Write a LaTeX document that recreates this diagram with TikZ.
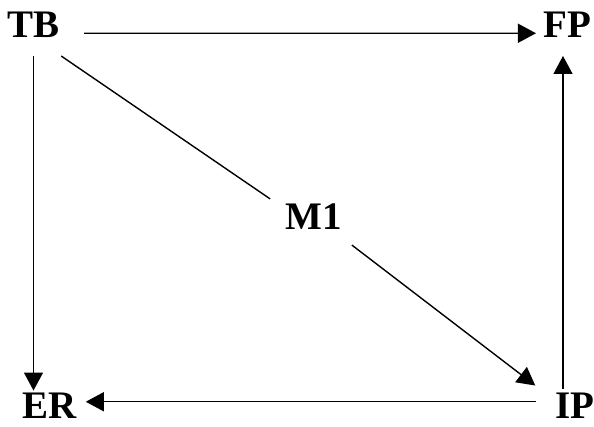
\documentclass[tikz,border=0pt]{standalone}
\usepackage{fontspec}
\setmainfont{Liberation Serif}
\usetikzlibrary{arrows.meta}

\begin{document}
\begin{tikzpicture}[x=1pt,y=1pt,line width=1.4pt,>={Triangle[length=18pt,width=19pt]},
  lbl/.style={inner sep=0pt,font=\fontsize{39}{42}\selectfont\bfseries}]
\useasboundingbox (0,0) rectangle (594,427);
% ---------- nodes ----------
\node[lbl] (TB) at (33.5,402.5) {TB};
\node[lbl] (FP) at (567.5,402.5) {FP};
\node[lbl] (ER) at (50,21.5) {ER};
\node[lbl] (IP) at (574.5,21.5) {IP};
\node[lbl] (M1) at (314,210.5) {M1};
% ---------- arrows ----------
\draw[->,shorten <=24pt,shorten >=7pt] ([yshift=4pt]TB.base east) -- ([yshift=4pt]FP.base west);
\draw[->,shorten <=18pt,shorten >=1.5pt] (TB.south) -- (TB.south |- ER.north);
\draw[->,shorten <=18pt,shorten >=8pt] ([yshift=16.5pt]IP.base west) -- ([yshift=16.5pt]ER.base east);
\draw[->,shorten <=3.5pt] ([xshift=-11.5pt]IP.north) -- ([xshift=-4.5pt,yshift=-18pt]FP.south);
% ---------- diagonal ----------
\draw ([xshift=1pt,yshift=-18pt]TB.south east) -- ([xshift=-15pt,yshift=4pt]M1.north west);
\draw[->] ([xshift=9pt,yshift=-15pt]M1.south east) -- ([xshift=-19pt,yshift=6.5pt]IP.north west);
\end{tikzpicture}
\end{document}
